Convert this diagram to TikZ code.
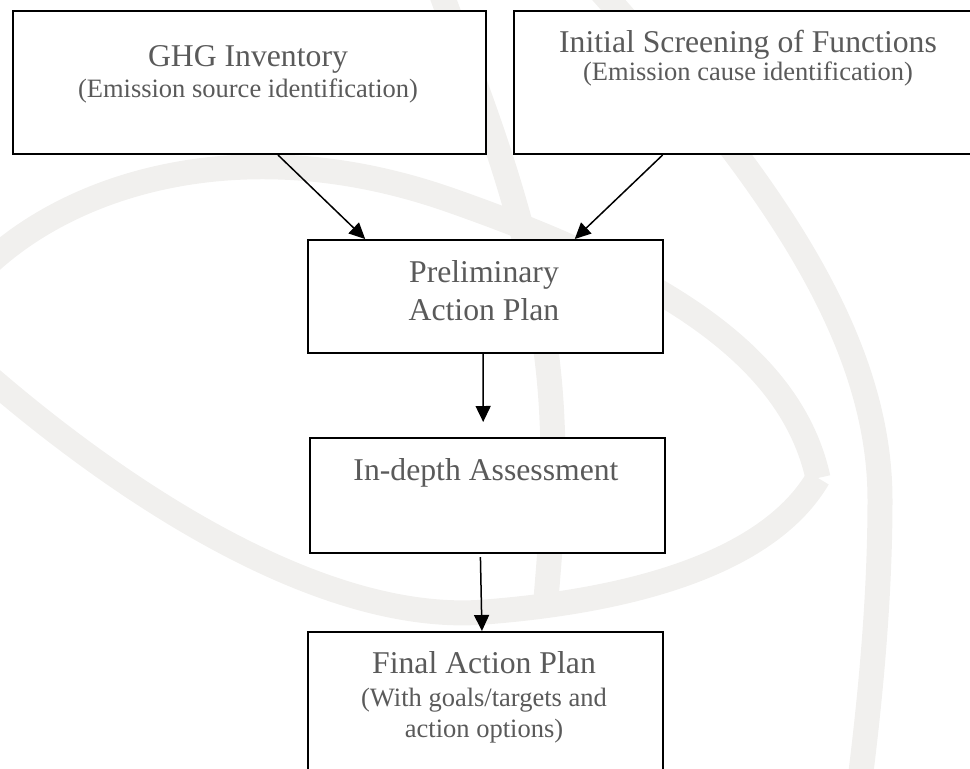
\documentclass[tikz,border=0pt]{standalone}
\usepackage{fontspec}
\setmainfont{Liberation Serif}
\usetikzlibrary{arrows.meta,calc}
\definecolor{txtgray}{RGB}{90,90,90}
\definecolor{wmgray}{RGB}{241,240,238}
\tikzset{
  box/.style={draw, fill=white, line width=2pt, anchor=north west, inner sep=0pt},
  titletext/.style={text=txtgray, anchor=base, inner sep=0pt, align=center,
    font=\fontsize{31.7}{38}\selectfont},
  subtext/.style={text=txtgray, anchor=base, inner sep=0pt, align=center,
    font=\fontsize{26.5}{31}\selectfont},
  arr/.style={line width=1.5pt, -{Triangle[length=16pt,width=15pt]}},
  wmline/.style={wmgray, line width=25pt}
}
\begin{document}
\begin{tikzpicture}[x=1pt, y=-1pt]
  \useasboundingbox (0,0) rectangle (970,769);
  \clip (0,0) rectangle (970,769);

  % watermark in the background
  \draw[wmline] (-10,378) .. controls (120,490) and (320,625) .. (485,612)
    .. controls (640,600) and (770,560) .. (818,478);
  \draw[wmline] (-10,262) .. controls (80,180) and (250,130) .. (450,200)
    .. controls (650,270) and (790,350) .. (818,478);
  \draw[wmline] (600,-10) .. controls (760,170) and (880,330) .. (880,500)
    .. controls (880,600) and (870,700) .. (860,780);
  \draw[wmline] (440,-10) .. controls (480,100) and (545,250) .. (552,420)
    .. controls (556,500) and (548,570) .. (545,612);

  % boxes
  \node[box, minimum width=473, minimum height=143] (ghg) at (12,10) {};
  \node[box, minimum width=470, minimum height=143] (screen) at (513,10) {};
  \node[box, minimum width=355, minimum height=113] (prelim) at (307,239) {};
  \node[box, minimum width=355, minimum height=115] (indepth) at (309,437) {};
  \node[box, minimum width=355, minimum height=160] (final) at (307,631) {};

  % texts
  \node[titletext] (ghgt) at (248,66) {GHG Inventory};
  \node[subtext] (ghgs) at (248,97) {(Emission source identification)};
  \node[titletext] (screent) at (748,52) {Initial Screening of Functions};
  \node[subtext] (screens) at (748,80) {(Emission cause identification)};
  \node[titletext] (prelimt) at (484,320) {Preliminary\\Action Plan};
  \node[titletext] (indeptht) at (486,480) {In-depth Assessment};
  \node[titletext] (finalt) at (484,673) {Final Action Plan};
  \node[subtext] (finals) at (484,737) {(With goals/targets and\\action options)};

  % arrows
  \draw[arr] ($(ghg.south west)!0.56!(ghg.south east)$)
    -- ($(prelim.north west)!0.163!(prelim.north east)$);
  \draw[arr] ($(screen.south west)!0.317!(screen.south east)$)
    -- ($(prelim.north west)!0.75!(prelim.north east)$);
  \draw[arr, shorten >=15pt] ($(prelim.south west)!0.493!(prelim.south east)$)
    -- ($(indepth.north west)!0.488!(indepth.north east)$);
  \draw[arr, shorten <=3pt] ($(indepth.south west)!0.48!(indepth.south east)$)
    -- ($(final.north west)!0.49!(final.north east)$);
\end{tikzpicture}
\end{document}
